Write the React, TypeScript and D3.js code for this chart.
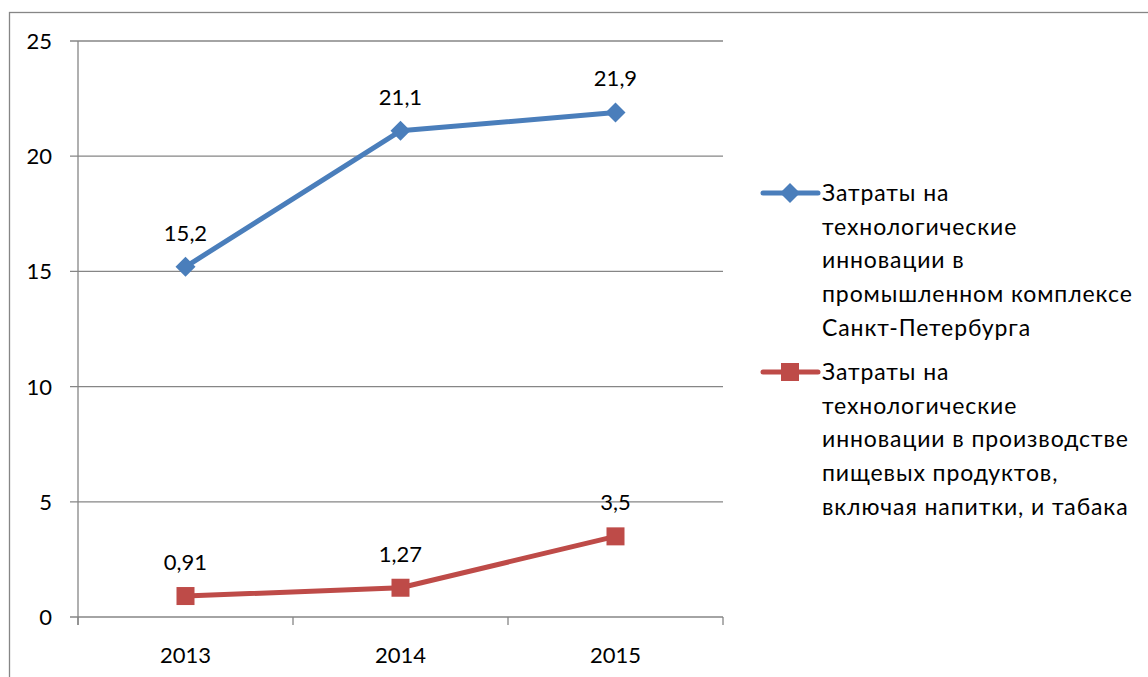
import React from "react";
import * as d3 from "d3";

const categories = ["2013", "2014", "2015"];
const seriesA = [15.2, 21.1, 21.9];
const seriesB = [0.91, 1.27, 3.5];
const labelsA = ["15,2", "21,1", "21,9"];
const labelsB = ["0,91", "1,27", "3,5"];
const yTicks = [0, 5, 10, 15, 20, 25];
const legendA = ["Затраты на", "технологические", "инновации в", "промышленном комплексе", "Санкт-Петербурга"];
const legendB = ["Затраты на", "технологические", "инновации в производстве", "пищевых продуктов,", "включая напитки, и табака"];

const W = 1148, H = 677;
const left = 78, right = 723, top = 41, bottom = 617;
const font = "Lato, 'Open Sans', sans-serif";
const blue = "#4A7EBB";
const red = "#BE4B48";
const grid = "#868686";

export default function App() {
  const x = d3.scaleBand<string>().domain(categories).range([left, right]);
  const y = d3.scaleLinear().domain([0, 25]).range([bottom, top]);
  const cx = (c: string) => (x(c) as number) + x.bandwidth() / 2;
  const line = d3.line<number>().x((_, i) => cx(categories[i])).y((d) => y(d));
  const fs = 22;
  const diamond = (px: number, py: number, r: number) =>
    `M${px},${py - r}L${px + r},${py}L${px},${py + r}L${px - r},${py}Z`;
  const legendLine = 33.7;
  return (
    <svg width={W} height={H} style={{ position: "absolute", left: 0, top: 0, background: "#fff" }} fontFamily={font}>
      <rect x={9.5} y={12.5} width={1200} height={700} fill="none" stroke={grid} strokeWidth={1.3} />
      {yTicks.map((t) => (
        <g key={t}>
          <line x1={left - 8} x2={right} y1={y(t)} y2={y(t)} stroke={grid} strokeWidth={1.3} />
          <text x={52} y={y(t) + 8} textAnchor="end" fontSize={fs} fill="#000">{t}</text>
        </g>
      ))}
      <line x1={left} x2={left} y1={top} y2={bottom + 8} stroke={grid} strokeWidth={1.3} />
      {[...categories.map((c) => x(c) as number), right].map((v, i) => (
        <line key={i} x1={v} x2={v} y1={bottom} y2={bottom + 8} stroke={grid} strokeWidth={1.3} />
      ))}
      {categories.map((c) => (
        <text key={c} x={cx(c)} y={bottom + 46} textAnchor="middle" fontSize={fs} fill="#000">{c}</text>
      ))}
      <path d={line(seriesA) || ""} fill="none" stroke={blue} strokeWidth={5} strokeLinejoin="round" />
      <path d={line(seriesB) || ""} fill="none" stroke={red} strokeWidth={5} strokeLinejoin="round" />
      {seriesA.map((v, i) => (
        <g key={"a" + i}>
          <path d={diamond(cx(categories[i]), y(v), 10)} fill={blue} />
          <text x={cx(categories[i])} y={y(v) - 26} textAnchor="middle" fontSize={fs} fill="#000">{labelsA[i]}</text>
        </g>
      ))}
      {seriesB.map((v, i) => (
        <g key={"b" + i}>
          <rect x={cx(categories[i]) - 9} y={y(v) - 9} width={18} height={18} fill={red} />
          <text x={cx(categories[i])} y={y(v) - 26} textAnchor="middle" fontSize={fs} fill="#000">{labelsB[i]}</text>
        </g>
      ))}
      <line x1={763} x2={818} y1={193} y2={193} stroke={blue} strokeWidth={5} strokeLinecap="round" />
      <path d={diamond(790, 193, 10)} fill={blue} />
      {legendA.map((s, i) => (
        <text key={"la" + i} x={822} y={201 + i * legendLine} fontSize={23} letterSpacing={0.9} fill="#000">{s}</text>
      ))}
      <line x1={763} x2={818} y1={372} y2={372} stroke={red} strokeWidth={5} strokeLinecap="round" />
      <rect x={781} y={363} width={18} height={18} fill={red} />
      {legendB.map((s, i) => (
        <text key={"lb" + i} x={822} y={380 + i * legendLine} fontSize={23} letterSpacing={0.9} fill="#000">{s}</text>
      ))}
    </svg>
  );
}
